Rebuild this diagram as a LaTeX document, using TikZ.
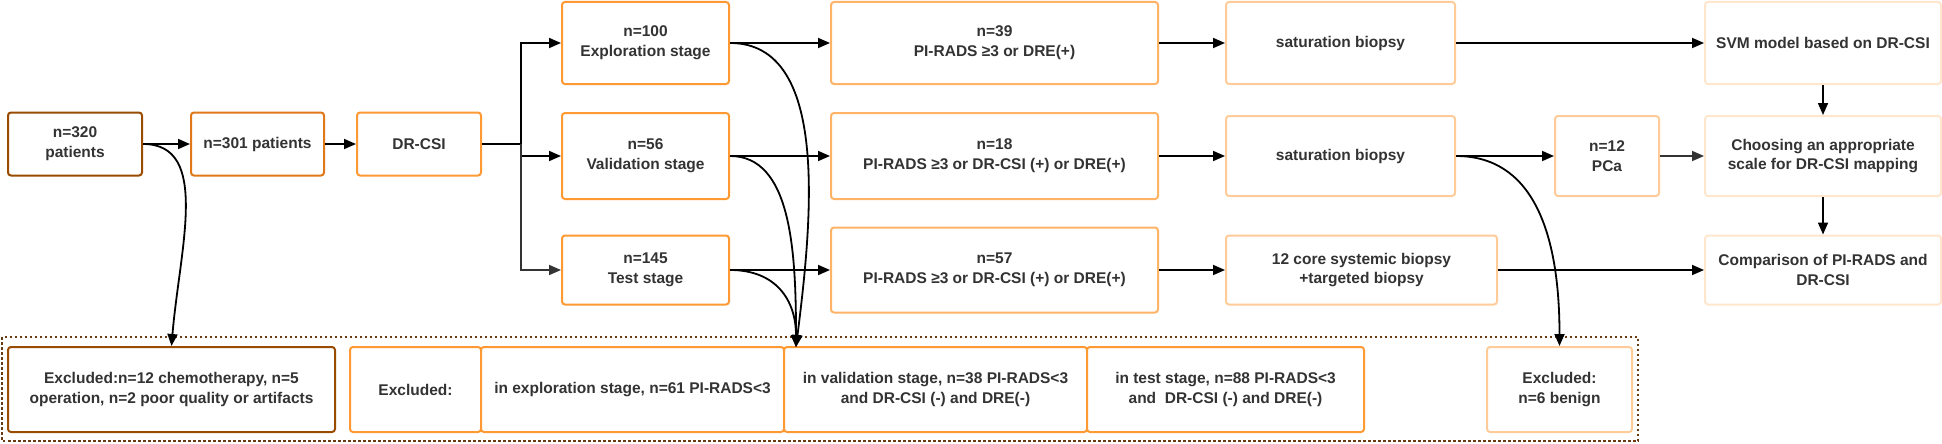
\documentclass[tikz,border=0pt]{standalone}
\usepackage{fontspec}
\setmainfont{Liberation Sans}
\usetikzlibrary{arrows.meta}
\definecolor{brownb}{HTML}{994C00}
\definecolor{orangea}{HTML}{E0781A}
\definecolor{orangeb}{HTML}{FF9933}
\definecolor{orangec}{HTML}{FFB366}
\definecolor{oranged}{HTML}{FFCC99}
\definecolor{orangee}{HTML}{FFE6CC}
\definecolor{grpcol}{HTML}{6B3A10}
\definecolor{txt}{HTML}{333333}
\begin{document}
\begin{tikzpicture}[x=1pt,y=-1pt,
    every node/.style={font=\fontsize{15.5}{19.7}\selectfont\bfseries,text=txt,align=center},
    box/.style n args={3}{draw=#1,fill=white,line width=2pt,rounded corners=3pt,
      inner sep=0pt,minimum width=#2pt,minimum height=#3pt},
    arr/.style={-{Triangle[length=12pt,width=10pt]},line width=1.8pt},
    grp/.style={draw=grpcol,line width=1.8pt,dash pattern=on 2.5pt off 2.5pt}
  ]
    \useasboundingbox (0,0) rectangle (1942,444);
    \draw[grp] (2,337) rectangle (1638,441);

    \node[box={brownb}{134}{63}] (n320) at (75,144) {n=320\\patients};
    \node[box={orangea}{133}{63}] (n301) at (257.5,144) {n=301 patients};
    \node[box={orangeb}{124}{63}] (drcsi) at (419,144) {DR-CSI};

    \node[box={orangeb}{167}{82}] (explo) at (645.5,43) {n=100\\Exploration stage};
    \node[box={orangeb}{167}{86}] (valid) at (645.5,156) {n=56\\Validation stage};
    \node[box={orangeb}{167}{69}] (test) at (645.5,270) {n=145\\Test stage};

    \node[box={orangec}{327}{82}] (pir1) at (994.5,43) {n=39\\PI-RADS ≥3 or DRE(+)};
    \node[box={orangec}{327}{86}] (pir2) at (994.5,156) {n=18\\PI-RADS ≥3 or DR-CSI (+) or DRE(+)};
    \node[box={orangec}{327}{85}] (pir3) at (994.5,270) {n=57\\PI-RADS ≥3 or DR-CSI (+) or DRE(+)};

    \node[box={oranged}{229}{82}] (sat1) at (1340.5,43) {saturation biopsy};
    \node[box={oranged}{229}{80}] (sat2) at (1340.5,156) {saturation biopsy};
    \node[box={oranged}{271}{69}] (core) at (1361.5,270) {12 core systemic biopsy\\+targeted biopsy};
    \node[box={oranged}{104}{80}] (pca) at (1607,156) {n=12\\PCa};

    \node[box={orangee}{236}{82}] (svm) at (1823,43) {SVM model based on DR-CSI};
    \node[box={orangee}{236}{80}] (choose) at (1823,156) {Choosing an appropriate\\scale for DR-CSI mapping};
    \node[box={orangee}{236}{69}] (compare) at (1823,270) {Comparison of PI-RADS and\\DR-CSI};

    \node[box={brownb}{327}{85}] (excla) at (171.5,389.5) {Excluded:n=12 chemotherapy, n=5\\operation, n=2 poor quality or artifacts};
    \node[box={orangeb}{131}{85}] (exclb) at (415.5,389.5) {Excluded:};
    \node[box={orangeb}{303}{85}] (exclexp) at (632.5,389.5) {in exploration stage, n=61 PI-RADS<3};
    \node[box={orangeb}{303}{85}] (exclval) at (935.5,389.5) {in validation stage, n=38 PI-RADS<3\\and DR-CSI (-) and DRE(-)};
    \node[box={orangeb}{277}{85}] (excltest) at (1225.5,389.5) {in test stage, n=88 PI-RADS<3\\and~ DR-CSI (-) and DRE(-)};
    \node[box={oranged}{145}{85}] (benign) at (1559.5,389.5) {Excluded:\\n=6 benign};

    \coordinate (fork) at (521,144);
    \coordinate (drop) at (796,347);

    \draw[arr] (n320.east) -- (n301.west);
    \draw[arr] (n301.east) -- (drcsi.west);
    \draw[line width=1.8pt] (drcsi.east) -- (fork);
    \draw[arr] (fork) |- (explo.west);
    \draw[arr] (fork) |- (valid.west);
    \draw[arr,draw=txt] (fork) |- (test.west);

    \draw[arr] (explo.east) -- (pir1.west);
    \draw[arr] (valid.east) -- (pir2.west);
    \draw[arr] (test.east) -- (pir3.west);
    \draw[arr] (pir1.east) -- (sat1.west);
    \draw[arr] (pir2.east) -- (sat2.west);
    \draw[arr] (pir3.east) -- (core.west);
    \draw[arr] (sat1.east) -- (svm.west);
    \draw[arr] (sat2.east) -- (pca.west);
    \draw[arr,draw=txt] (pca.east) -- (choose.west);
    \draw[arr] (core.east) -- (compare.west);
    \draw[arr] (svm.south) -- (choose.north);
    \draw[arr] (choose.south) -- (compare.north);

    \draw[arr] (n320.east) .. controls +(68,0) and +(8,-97) .. (excla.north);
    \draw[arr] (explo.east) .. controls +(100,0) and +(16,-127) .. (drop);
    \draw[arr] (valid.east) .. controls +(61,0) and +(0,-97) .. (drop);
    \draw[arr] (test.east) .. controls +(46,0) and +(0,-47) .. (drop);
    \draw[arr] (sat2.east) .. controls +(75,0) and +(0,-117) .. (benign.north);
\end{tikzpicture}
\end{document}
